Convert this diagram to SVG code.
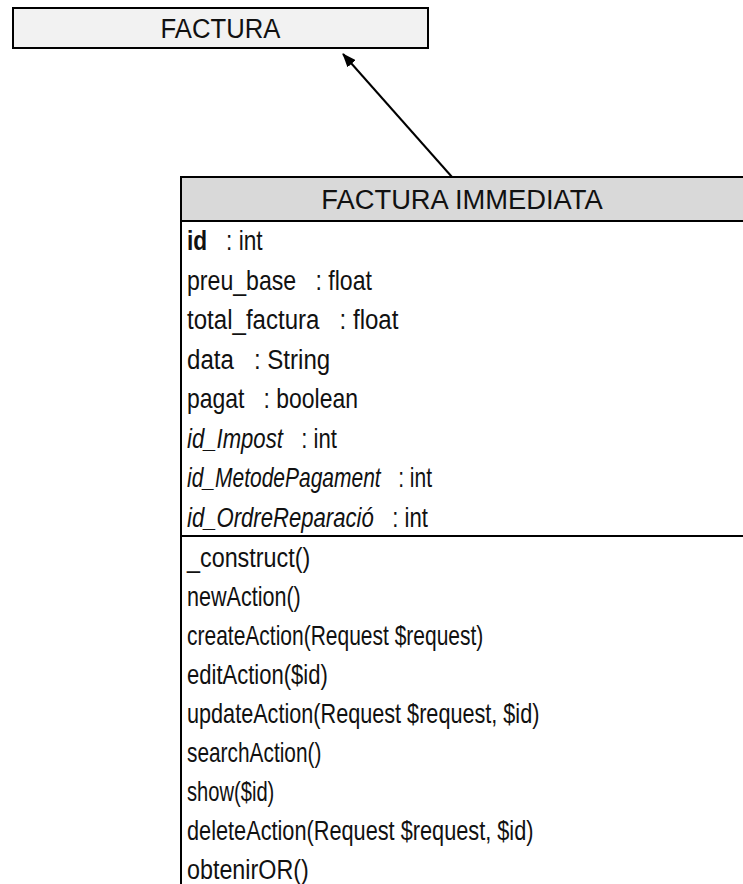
<svg xmlns="http://www.w3.org/2000/svg" width="743" height="884" viewBox="0 0 743 884">
<defs>
<marker id="arrow" viewBox="0 0 14 11" refX="13" refY="5.5" markerWidth="14" markerHeight="11" markerUnits="userSpaceOnUse" orient="auto">
<path d="M0,0 L14,5.5 L0,11 z" fill="#000"/>
</marker>
<style>
text{font-family:"Liberation Sans",Arial,sans-serif;font-size:28px;fill:#111;white-space:pre}
.it{font-style:italic}
.b{font-weight:bold}
.box{stroke:#000;stroke-width:2}
</style>
</defs>
<rect width="743" height="884" fill="#fff"/>
<g id="connectors">
<line x1="452" y1="177" x2="343" y2="54" stroke="#000" stroke-width="2" marker-end="url(#arrow)"/>
</g>
<g id="factura">
<rect x="13" y="8" width="415" height="40" fill="#f2f2f2" class="box"/>
<text transform="translate(220.5 38) scale(0.917 1)" text-anchor="middle">FACTURA</text>
</g>
<g id="factura-immediata">
<rect x="181" y="177" width="580" height="44" fill="#d9d9d9" class="box"/>
<line x1="181" y1="177" x2="181" y2="884" class="box"/>
<line x1="181" y1="536" x2="743" y2="536" class="box"/>
<text transform="translate(462 209) scale(0.977 1)" text-anchor="middle">FACTURA IMMEDIATA</text>
<text transform="translate(187 250) scale(0.81 1)"><tspan class="b">id</tspan>   : int</text>
<text transform="translate(187 289.5) scale(0.826 1)">preu_base   : float</text>
<text transform="translate(187 329) scale(0.86 1)">total_factura   : float</text>
<text transform="translate(187 368.5) scale(0.86 1)">data   : String</text>
<text transform="translate(187 408) scale(0.82 1)">pagat   : boolean</text>
<text transform="translate(187 447.5) scale(0.79 1)"><tspan class="it">id_Impost</tspan>   : int</text>
<text transform="translate(187 487) scale(0.75 1)"><tspan class="it">id_MetodePagament</tspan>   : int</text>
<text transform="translate(187 527) scale(0.79 1)"><tspan class="it">id_OrdreReparació</tspan>   : int</text>
<text transform="translate(187 567) scale(0.834 1)">_construct()</text>
<text transform="translate(187 606) scale(0.77 1)">newAction()</text>
<text transform="translate(187 645) scale(0.75 1)">createAction(Request $request)</text>
<text transform="translate(187 684) scale(0.787 1)">editAction($id)</text>
<text transform="translate(187 723) scale(0.773 1)">updateAction(Request $request, $id)</text>
<text transform="translate(187 762) scale(0.745 1)">searchAction()</text>
<text transform="translate(187 801) scale(0.72 1)">show($id)</text>
<text transform="translate(187 840) scale(0.776 1)">deleteAction(Request $request, $id)</text>
<text transform="translate(187 879) scale(0.833 1)">obtenirOR()</text>
</g>
</svg>
